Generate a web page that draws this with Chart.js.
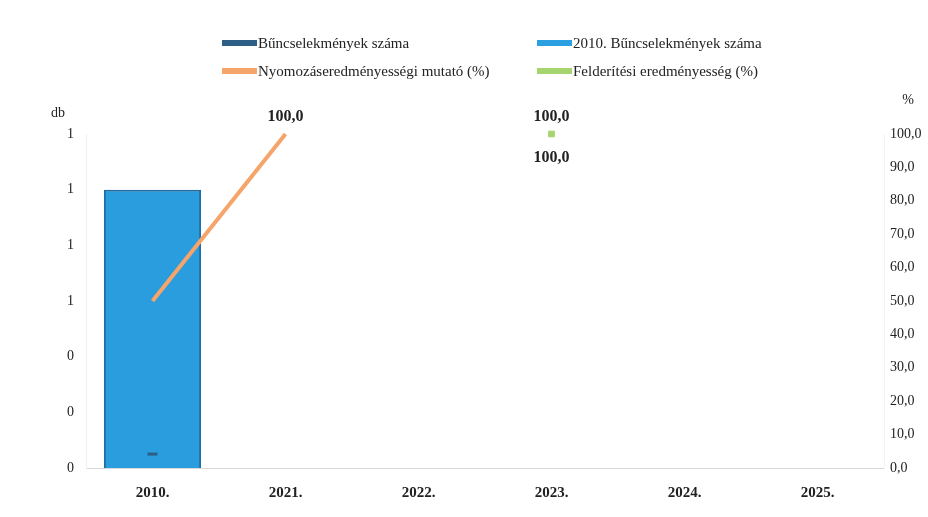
<!DOCTYPE html>
<html>
<head>
<meta charset="utf-8">
<script src="https://cdn.jsdelivr.net/npm/chart.js@4/dist/chart.umd.min.js"></script>
<style>
  html, body { margin: 0; padding: 0; background: #fff; }
  #wrap { position: relative; width: 928px; height: 517px; }
  .leg { position: absolute; font-family: "Liberation Serif", serif; font-size: 15px; color: #222; white-space: nowrap; }
  .leg span { display: inline-block; width: 35px; height: 6px; vertical-align: middle; margin-right: 1px; position: relative; top: -2px; }
</style>
</head>
<body>
<div id="wrap">
  <canvas id="chart" width="928" height="517"></canvas>
  <div class="leg" style="left:222px; top:35px;"><span style="background:#2d5f86"></span>Bűncselekmények száma</div>
  <div class="leg" style="left:537px; top:35px;"><span style="background:#2b9fe0"></span>2010. Bűncselekmények száma</div>
  <div class="leg" style="left:222px; top:63px;"><span style="background:#f5a46a"></span>Nyomozáseredményességi mutató (%)</div>
  <div class="leg" style="left:537px; top:63px;"><span style="background:#a6d46e"></span>Felderítési eredményesség (%)</div>
</div>
<script>
const years = ['2010.', '2021.', '2022.', '2023.', '2024.', '2025.'];
const crimes = [0.05, null, null, null, null, null];
const crimes2010 = [1, null, null, null, null, null];
const investigation = [50, 100, null, 100, null, null];
const detection = [null, null, null, 100, null, null];
const leftTicks = { max: 1.2, step: 0.2 };
const rightTicks = { max: 100, step: 10 };

const fmt = v => v.toFixed(1).replace('.', ',');

// value labels: orange above (skip first point), green below
const valueLabels = {
  id: 'valueLabels',
  afterDatasetsDraw(chart) {
    const ctx = chart.ctx;
    ctx.save();
    ctx.font = 'bold 16px "Liberation Serif", serif';
    ctx.fillStyle = '#222';
    ctx.textAlign = 'center';
    chart.getDatasetMeta(2).data.forEach((pt, i) => {
      if (i === 0 || investigation[i] == null) return;
      ctx.textBaseline = 'bottom';
      ctx.fillText(fmt(investigation[i]), pt.x, pt.y - 9);
    });
    chart.getDatasetMeta(3).data.forEach((pt, i) => {
      if (detection[i] == null) return;
      ctx.textBaseline = 'top';
      ctx.fillText(fmt(detection[i]), pt.x, pt.y + 16);
    });
    // axis unit titles
    ctx.font = '14px "Liberation Serif", serif';
    ctx.textBaseline = 'middle';
    ctx.fillText('db', 58, 113);
    ctx.fillText('%', 908, 100);
    ctx.restore();
  }
};

new Chart(document.getElementById('chart'), {
  data: {
    labels: years,
    datasets: [
      {
        type: 'line',
        label: 'Bűncselekmények száma',
        data: crimes,
        yAxisID: 'y',
        borderColor: '#2d5f86',
        backgroundColor: '#2d5f86',
        pointStyle: 'line',
        pointRadius: 5,
        pointBorderWidth: 3,
        showLine: false,
        order: 1
      },
      {
        type: 'bar',
        label: '2010. Bűncselekmények száma',
        data: crimes2010,
        yAxisID: 'y',
        backgroundColor: '#2a9ddf',
        borderColor: '#1d6fa8',
        borderWidth: 2,
        barPercentage: 0.73,
        categoryPercentage: 1,
        order: 5
      },
      {
        type: 'line',
        label: 'Nyomozáseredményességi mutató (%)',
        data: investigation,
        yAxisID: 'y1',
        borderColor: '#f5a46a',
        backgroundColor: '#f5a46a',
        borderWidth: 4,
        pointRadius: 0,
        spanGaps: false,
        clip: false,
        order: 2
      },
      {
        type: 'line',
        label: 'Felderítési eredményesség (%)',
        data: detection,
        yAxisID: 'y1',
        borderColor: '#a6d46e',
        backgroundColor: '#a6d46e',
        pointBackgroundColor: '#a6d46e',
        pointBorderColor: '#a6d46e',
        pointStyle: 'rect',
        pointRadius: 4,
        pointBorderWidth: 1,
        showLine: false,
        clip: false,
        order: 3
      }
    ]
  },
  options: {
    responsive: false,
    animation: false,
    layout: { padding: { top: 134, left: 0, right: 0, bottom: 0 } },
    plugins: { legend: { display: false }, tooltip: { enabled: false } },
    scales: {
      x: {
        grid: { display: false },
        border: { color: '#d9d9d9', width: 1 },
        ticks: { color: '#222', padding: 8, font: { family: '"Liberation Serif", serif', size: 15, weight: 'bold' } },
        afterFit(s) { s.height = 49; }
      },
      y: {
        position: 'left',
        min: 0,
        max: leftTicks.max,
        grid: { display: false, drawTicks: false },
        border: { color: '#f0f0f0' },
        ticks: {
          stepSize: leftTicks.step,
          padding: 12,
          color: '#222',
          font: { family: '"Liberation Serif", serif', size: 14 },
          callback: v => Math.round(v).toString()
        },
        afterFit(s) { s.width = 86; }
      },
      y1: {
        position: 'right',
        min: 0,
        max: rightTicks.max,
        grid: { display: false, drawTicks: false },
        border: { color: '#f3f3f3' },
        ticks: {
          stepSize: rightTicks.step,
          padding: 6,
          color: '#222',
          font: { family: '"Liberation Serif", serif', size: 14 },
          callback: v => fmt(v)
        },
        afterFit(s) { s.width = 44; }
      }
    }
  },
  plugins: [valueLabels]
});
</script>
</body>
</html>
